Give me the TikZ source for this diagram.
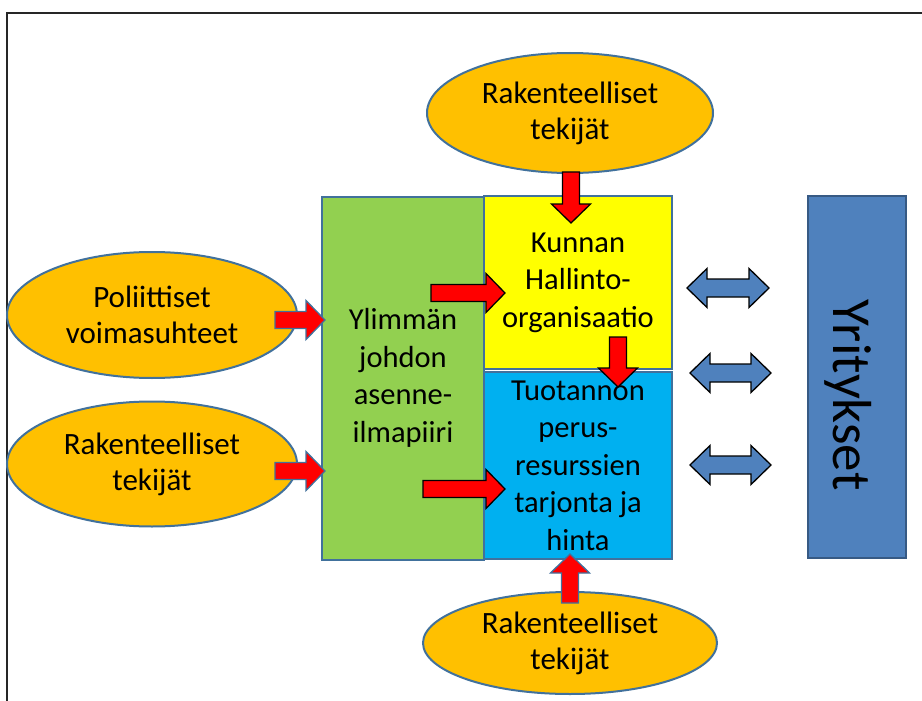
\documentclass[tikz,border=0pt]{standalone}
\usepackage{fontspec}
\setmainfont{Carlito}
\usetikzlibrary{calc,shapes.geometric}

\definecolor{oranssi}{HTML}{FFC000}
\definecolor{reuna}{HTML}{41719C}
\definecolor{vihrea}{HTML}{92D050}
\definecolor{keltainen}{HTML}{FFFF00}
\definecolor{syaani}{HTML}{00B0F0}
\definecolor{sininen}{HTML}{4F81BD}
\definecolor{punainen}{HTML}{FF0000}

\tikzset{
  tekija/.style={ellipse, draw=reuna, line width=2pt, fill=oranssi,
    inner sep=0pt, align=center, font=\fontsize{31}{36}\selectfont},
  laatikko/.style={rectangle, draw=reuna, line width=2pt, inner sep=0pt,
    align=center, font=\fontsize{30.5}{37.5}\selectfont},
  nuoli/.style={draw=black, line width=1.3pt, fill=punainen, line join=miter},
  nuolib/.style={draw=reuna, line width=1.3pt, fill=punainen, line join=miter},
  kaksnuoli/.style={draw=black, line width=1.3pt, fill=sininen, line join=miter}
}

% block arrow from #2 to #3
\newcommand{\blocknuoli}[3][nuoli]{%
  \coordinate (hb) at ($(#3)!19pt!(#2)$);
  \draw[#1] ($(#2)!8.5pt!90:(#3)$) -- ($(hb)!8.5pt!90:(#3)$)
    -- ($(hb)!19.5pt!90:(#3)$) -- (#3) -- ($(hb)!19.5pt!-90:(#3)$)
    -- ($(hb)!8.5pt!-90:(#3)$) -- ($(#2)!8.5pt!-90:(#3)$) -- cycle;
}
% double block arrow between #1 and #2
\newcommand{\tuplanuoli}[2]{%
  \coordinate (ha) at ($(#1)!20pt!(#2)$);
  \coordinate (hb) at ($(#2)!20pt!(#1)$);
  \draw[kaksnuoli] (#1) -- ($(ha)!19.5pt!90:(#2)$) -- ($(ha)!9pt!90:(#2)$)
    -- ($(hb)!9pt!90:(#2)$) -- ($(hb)!19.5pt!90:(#2)$) -- (#2)
    -- ($(hb)!19.5pt!-90:(#2)$) -- ($(hb)!9pt!-90:(#2)$)
    -- ($(ha)!9pt!-90:(#2)$) -- ($(ha)!19.5pt!-90:(#2)$) -- cycle;
}

\begin{document}
\begin{tikzpicture}[x=1pt, y=-1pt]
\useasboundingbox (0,0) rectangle (922,701);
% frame
\draw[black!85, line width=2pt] (922,13) -- (7,13) -- (7,701);

% boxes
\node[laatikko, fill=vihrea, minimum width=162pt, minimum height=363pt] (johto) at (403,378)
  {Ylimmän\\johdon\\asenne-\\ilmapiiri};
\node[laatikko, fill=keltainen, minimum width=188pt, minimum height=173pt] (hallinto) at (578,282.5)
  {Kunnan\\Hallinto-\\organisaatio};
\node[laatikko, fill=syaani, minimum width=188pt, minimum height=187pt] (tuotanto) at (578,465.5)
  {Tuotannon\\perus-\\resurssien\\tarjonta ja\\hinta};
\node[laatikko, fill=sininen, draw=sininen!70!black, rotate=-90,
  minimum width=362pt, minimum height=98pt, text height=47pt, text depth=0pt,
  font=\fontsize{55}{60}\selectfont] (yritykset) at (857,377)
  {\hspace*{36pt}Yritykset};

% ellipses
\node[tekija, minimum width=286pt, minimum height=120pt] (ylä) at (570,113)
  {Rakenteelliset\\tekijät};
\node[tekija, minimum width=290pt, minimum height=126pt] (politiikka) at (152,315)
  {Poliittiset\\voimasuhteet};
\node[tekija, minimum width=290pt, minimum height=125pt] (vasen) at (152,464)
  {Rakenteelliset\\tekijät};
\node[tekija, minimum width=294pt, minimum height=102pt] (ala) at (570,643)
  {Rakenteelliset\\tekijät};

% arrow ends
\coordinate (a1) at (571,172);  \coordinate (b1) at (571,223);
\coordinate (a2) at (618,337);  \coordinate (b2) at (618,387);
\coordinate (a3) at (431,293);  \coordinate (b3) at (505,293);
\coordinate (a4) at (423,489);  \coordinate (b4) at (505,489);
\coordinate (a5) at (275,320);  \coordinate (b5) at (325,320);
\coordinate (a6) at (275,471);  \coordinate (b6) at (325,471);
\coordinate (a7) at (570,603);  \coordinate (b7) at (570,554);

\blocknuoli{a1}{b1}
\blocknuoli{a2}{b2}
\blocknuoli{a3}{b3}
\blocknuoli{a4}{b4}
\blocknuoli[nuolib]{a5}{b5}
\blocknuoli[nuolib]{a6}{b6}
\blocknuoli[nuolib]{a7}{b7}

% two-way arrows
\coordinate (v1) at (687,288);  \coordinate (o1) at (769,288);
\coordinate (v2) at (690,373);  \coordinate (o2) at (771,373);
\coordinate (v3) at (690,465);  \coordinate (o3) at (771,465);
\tuplanuoli{v1}{o1}
\tuplanuoli{v2}{o2}
\tuplanuoli{v3}{o3}
\end{tikzpicture}
\end{document}
